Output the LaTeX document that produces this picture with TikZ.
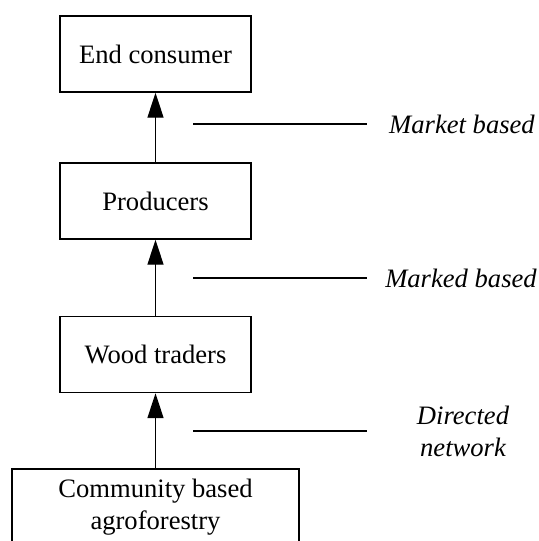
\documentclass[tikz,border=0pt]{standalone}
\usepackage{fontspec}
\setmainfont{Liberation Serif}
\usetikzlibrary{arrows.meta}

\begin{document}
\begin{tikzpicture}
  [x=0.5pt, y=-0.5pt, line width=0.7pt,
   box/.style={draw, minimum width=95.5pt, minimum height=38pt, font=\fontsize{13.3}{16.3}\selectfont},
   lab/.style={font=\fontsize{13.3}{16}\selectfont\itshape, align=center},
   arr/.style={-{Triangle[width=8pt,length=12.5pt]}}]
  \useasboundingbox (0,0) rectangle (539,541);
  \node[box] (ec) at (155.5, 54) {End consumer};
  \node[box] (pr) at (155.5, 201) {Producers};
  \node[box] (wt) at (155.5, 354.5) {Wood traders};
  \node[box, minimum width=143.5pt, align=center] (cb) at (155.5, 507) {Community based\\agroforestry};

  \node[lab] (l1) at (462, 124) {Market based};
  \node[lab] (l2) at (461, 278) {Marked based};
  \node[lab] (l3) at (463, 431) {Directed\\network};

  \coordinate (s1) at (193, 124); \coordinate (e1) at (367, 124);
  \coordinate (s2) at (193, 278); \coordinate (e2) at (367, 278);
  \coordinate (s3) at (193, 431); \coordinate (e3) at (367, 431);

  \foreach \from/\to in {pr/ec,wt/pr,cb/wt}
  \draw[arr] (\from) -- (\to);
  \foreach \from/\to in {s1/e1,s2/e2,s3/e3}
  \draw (\from) -- (\to);
\end{tikzpicture}
\end{document}
